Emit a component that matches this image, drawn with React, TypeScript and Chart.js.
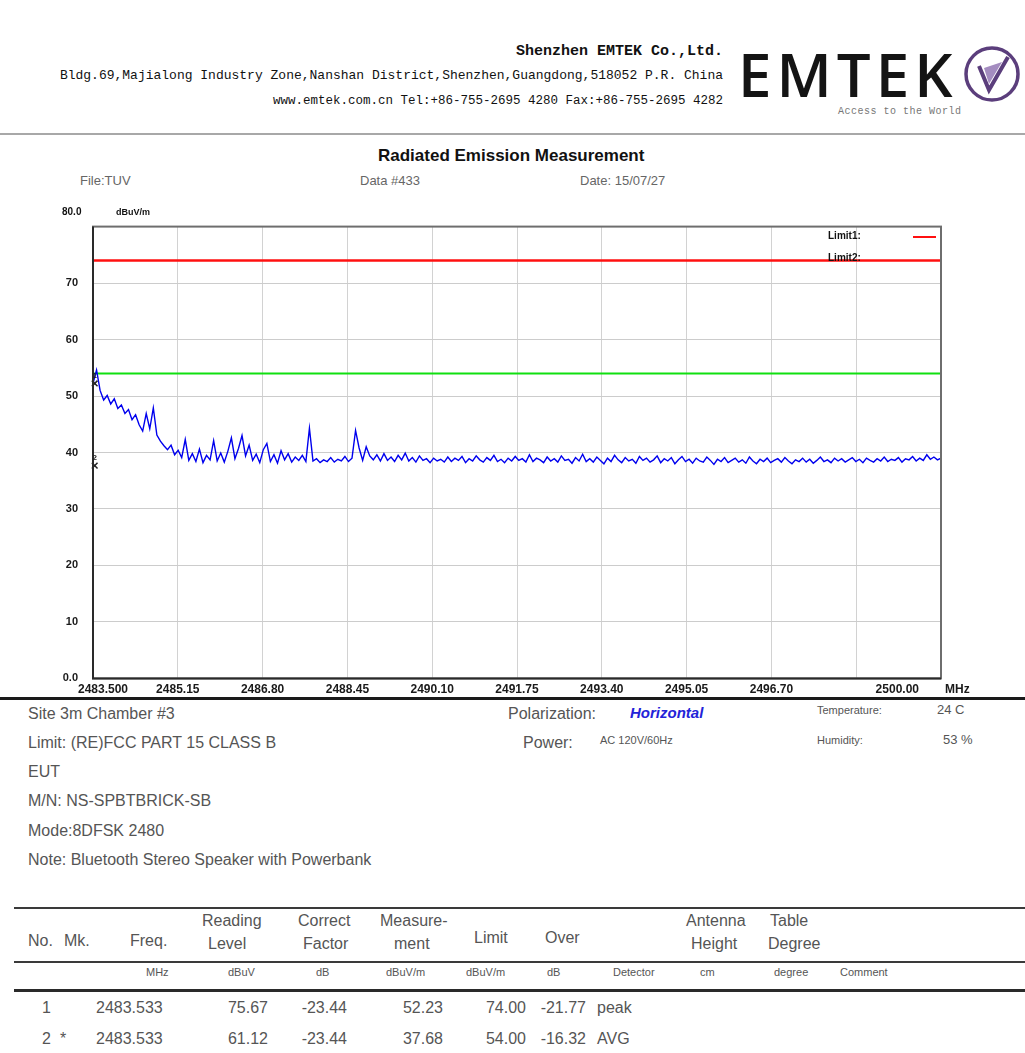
import React, { useEffect, useRef } from "react";
import { Chart, registerables } from "chart.js";

Chart.register(...registerables);

// ---------- chart data ----------
const SWEEP_START_MHZ = 2483.5;
const SWEEP_STOP_MHZ = 2500.0;

const TRACE_DBUV_M = [
  52.2, 54.6, 51.0, 49.3, 50.1, 48.6, 49.5, 47.8, 48.4, 46.9, 47.6, 45.8, 46.7, 44.9, 43.8, 46.9, 44.2, 47.9, 43.1, 42.0,
  41.2, 40.5, 41.3, 39.6, 40.4, 39.1, 42.3, 38.6, 39.8, 38.4, 40.6, 38.2, 39.5, 38.7, 42.1, 38.5, 39.9, 38.3, 40.2, 42.6,
  38.9, 40.7, 43.0, 39.4, 41.3, 38.6, 39.7, 38.2, 40.5, 41.6, 38.4, 39.6, 38.1, 40.3, 38.7, 39.8, 38.3, 39.2, 38.6, 39.5,
  38.4, 44.3, 38.5, 38.9, 38.2, 38.7, 38.4, 39.1, 38.3, 38.8, 38.5, 39.3, 38.4, 39.0, 43.9, 40.8, 38.6, 41.0, 39.4, 38.7,
  39.6, 38.5, 39.8, 38.6, 39.2, 38.4, 39.5, 38.7, 39.9, 38.5, 39.1, 38.3, 39.4, 38.6, 38.9, 38.2, 39.0, 38.5, 38.8, 38.3,
  39.2, 38.4, 39.0, 38.6, 39.3, 38.2, 38.9, 38.5, 39.4, 38.7, 38.3, 39.1, 38.6, 39.5, 38.4, 38.8, 38.2, 39.0, 38.5, 39.3,
  38.6, 38.9, 38.3, 39.6, 38.4, 39.0, 38.7, 38.2, 39.2, 38.5, 38.9, 38.3, 39.4, 38.6, 38.8, 38.1, 39.1, 38.5, 39.7, 38.4,
  38.9, 38.3, 39.2, 38.6, 38.0, 39.0, 38.4, 39.5, 38.7, 38.2, 39.1, 38.5, 38.8, 38.1, 39.3, 38.6, 39.0, 38.3, 38.7, 39.4,
  38.2, 38.9, 38.5, 39.1, 38.0, 38.7, 39.3, 38.4, 38.8, 38.1, 39.0, 38.5, 38.3, 39.2, 38.6, 37.9, 38.8, 38.4, 39.1, 38.2,
  38.6, 39.0, 38.3, 38.7, 38.1, 39.2, 38.5, 38.0, 38.8, 38.4, 39.0, 38.2, 38.6, 38.9, 38.3, 39.1, 38.5, 38.0, 38.7, 38.4,
  39.0, 38.3, 38.8, 38.1, 38.6, 39.2, 38.4, 38.7, 38.2, 39.0, 38.5, 38.9, 38.3, 38.7, 39.1, 38.4, 38.8, 38.2, 39.0, 38.6,
  38.3, 38.9, 38.5, 39.2, 38.4, 38.8, 38.6, 39.1, 38.3, 38.9, 38.7, 39.3, 38.5, 39.0, 38.6, 39.6, 38.8, 39.2, 38.7, 39.0,
];

const LIMIT1_DBUV_M = 74;
const LIMIT2_DBUV_M = 54;

const X_TICKS = [2483.5, 2485.15, 2486.8, 2488.45, 2490.1, 2491.75, 2493.4, 2495.05, 2496.7, 2498.35, 2500.0];
const X_TICK_LABELS = ["2483.500", "2485.15", "2486.80", "2488.45", "2490.10", "2491.75", "2493.40", "2495.05", "2496.70", "", "2500.00"];
const Y_MIN = 0;
const Y_MAX = 80;
const Y_STEP = 10;

// ---------- marker table data ----------
const MK_NO = ["1", "2"];
const MK_FLAG = ["", "*"];
const MK_FREQ = [2483.533, 2483.533];
const MK_READING = [75.67, 61.12];
const MK_CORRECT = [-23.44, -23.44];
const MK_MEASURE = [52.23, 37.68];
const MK_LIMIT = [74.0, 54.0];
const MK_OVER = [-21.77, -16.32];
const MK_DETECTOR = ["peak", "AVG"];

const SANS = '"Liberation Sans", Arial, Helvetica, sans-serif';
const MONO = '"Liberation Mono", "DejaVu Sans Mono", monospace';

const CANVAS_LEFT = 40;
const CANVAS_TOP = 205;
const CANVAS_W = 951;
const CANVAS_H = 495;

const xLabelPlugin = {
  id: "xLabelsAndFrame",
  afterDraw(chart: any) {
    const { ctx, chartArea, scales } = chart;
    const xs = scales.x;
    ctx.save();
    // frame
    ctx.strokeStyle = "#6e6e6e";
    ctx.lineWidth = 2;
    ctx.strokeRect(chartArea.left, chartArea.top, chartArea.right - chartArea.left, chartArea.bottom - chartArea.top);
    ctx.strokeStyle = "#2a2a2a";
    ctx.beginPath();
    ctx.moveTo(chartArea.left, chartArea.top);
    ctx.lineTo(chartArea.left, chartArea.bottom);
    ctx.lineTo(chartArea.right, chartArea.bottom);
    ctx.stroke();
    // marker numbers
    ctx.font = 'bold 8px "Liberation Sans", Arial, sans-serif';
    ctx.fillStyle = "#222";
    ctx.textAlign = "center";
    ctx.textBaseline = "bottom";
    const ys = scales.y;
    MK_NO.forEach((no, i) => {
      ctx.fillText(no, xs.getPixelForValue(MK_FREQ[i]), ys.getPixelForValue(MK_MEASURE[i]) - 4);
    });
    // x labels
    ctx.font = 'bold 12px "Liberation Sans Narrow", "Liberation Sans", Arial, sans-serif';
    ctx.fillStyle = "#1a1a1a";
    ctx.textBaseline = "middle";
    const y = chartArea.bottom + 11;
    X_TICKS.forEach((v, i) => {
      const label = X_TICK_LABELS[i];
      if (!label) return;
      const px = xs.getPixelForValue(v);
      if (i === 0) {
        ctx.textAlign = "center";
        ctx.fillText(label, px + 10, y);
      } else if (i === X_TICKS.length - 1) {
        ctx.textAlign = "right";
        ctx.fillText(label, px - 22, y);
      } else {
        ctx.textAlign = "center";
        ctx.fillText(label, px, y);
      }
    });
    ctx.textAlign = "left";
    ctx.fillText("MHz", xs.right + 4, y);
    ctx.restore();
  },
};

function T(props: { x: number; y: number; size: number; children: any; style?: any; right?: boolean }) {
  const { x, y, size, children, style, right } = props;
  const lh = Math.round(size * 1.2);
  const base: any = {
    position: "absolute",
    top: y - lh / 2,
    lineHeight: `${lh}px`,
    fontSize: size,
    fontFamily: SANS,
    whiteSpace: "nowrap",
    color: "#555",
  };
  if (right) base.right = 1025 - x;
  else base.left = x;
  return <div style={{ ...base, ...style }}>{children}</div>;
}

function HLine(props: { y: number; x1?: number; x2?: number; w?: number; color?: string }) {
  const { y, x1 = 0, x2 = 1025, w = 2, color = "#333" } = props;
  return <div style={{ position: "absolute", left: x1, top: y - w / 2, width: x2 - x1, height: w, background: color }} />;
}

function EmissionChart() {
  const ref = useRef<HTMLCanvasElement | null>(null);
  useEffect(() => {
    if (!ref.current) return;
    const n = TRACE_DBUV_M.length;
    const step = (SWEEP_STOP_MHZ - SWEEP_START_MHZ) / (n - 1);
    const trace = TRACE_DBUV_M.map((v, i) => ({ x: SWEEP_START_MHZ + i * step, y: v }));
    const lim1 = [
      { x: SWEEP_START_MHZ, y: LIMIT1_DBUV_M },
      { x: SWEEP_STOP_MHZ, y: LIMIT1_DBUV_M },
    ];
    const lim2 = [
      { x: SWEEP_START_MHZ, y: LIMIT2_DBUV_M },
      { x: SWEEP_STOP_MHZ, y: LIMIT2_DBUV_M },
    ];
    const markers = MK_FREQ.map((f, i) => ({ x: f, y: MK_MEASURE[i] }));

    const chart = new Chart(ref.current, {
      type: "line",
      data: {
        datasets: [
          { label: "Limit1", data: lim1, borderColor: "#ff1010", borderWidth: 2.5, pointRadius: 0, order: 3 },
          { label: "Limit2", data: lim2, borderColor: "#10e010", borderWidth: 2, pointRadius: 0, order: 3 },
          { label: "Trace", data: trace, borderColor: "#0000ee", borderWidth: 1.4, pointRadius: 0, tension: 0, order: 2 },
          {
            label: "Markers",
            data: markers,
            showLine: false,
            clip: false,
            pointStyle: "crossRot",
            pointRadius: 4,
            borderColor: "#222",
            borderWidth: 1.5,
            order: 1,
          },
        ],
      },
      options: {
        animation: false,
        responsive: false,
        devicePixelRatio: 1,
        layout: { padding: { top: 1, right: 50, bottom: 0, left: 0 } },
        plugins: { legend: { display: false }, tooltip: { enabled: false }, title: { display: false } },
        scales: {
          x: {
            type: "linear",
            min: SWEEP_START_MHZ,
            max: SWEEP_STOP_MHZ,
            afterBuildTicks: (scale: any) => {
              scale.ticks = X_TICKS.map((v) => ({ value: v }));
            },
            afterFit: (scale: any) => {
              scale.height = 18;
            },
            ticks: { display: false },
            grid: { color: "#d2d2d2", lineWidth: 1, drawTicks: false },
            border: { display: false },
          },
          y: {
            min: Y_MIN,
            max: Y_MAX,
            afterFit: (scale: any) => {
              scale.width = 53;
            },
            ticks: {
              stepSize: Y_STEP,
              padding: 15,
              color: "#1a1a1a",
              font: { family: '"Liberation Sans", Arial, sans-serif', size: 11, weight: "bold" },
              callback: (v: any) => (v === Y_MAX ? "" : v === 0 ? "0.0" : String(v)),
            },
            grid: { color: "#cccccc", lineWidth: 1, drawTicks: false },
            border: { display: false },
          },
        },
      },
      plugins: [xLabelPlugin],
    } as any);
    return () => chart.destroy();
  }, []);
  return (
    <canvas
      ref={ref}
      width={CANVAS_W}
      height={CANVAS_H}
      style={{ position: "absolute", left: CANVAS_LEFT, top: CANVAS_TOP, width: CANVAS_W, height: CANVAS_H }}
    />
  );
}

export default function App() {
  const fmt = (v: number) => v.toFixed(2);
  const rowY = [1007, 1038];
  return (
    <div style={{ position: "fixed", left: 0, top: 0, width: 1025, height: 1053, background: "#fff", overflow: "hidden" }}>
      {/* header */}
      <T x={723} y={52} size={15} right style={{ fontFamily: MONO, fontWeight: "bold", color: "#111" }}>
        Shenzhen EMTEK Co.,Ltd.
      </T>
      <T x={723} y={76} size={13} right style={{ fontFamily: MONO, color: "#111" }}>
        Bldg.69,Majialong Industry Zone,Nanshan District,Shenzhen,Guangdong,518052 P.R. China
      </T>
      <T x={723} y={101} size={12.5} right style={{ fontFamily: MONO, color: "#111" }}>
        www.emtek.com.cn Tel:+86-755-2695 4280 Fax:+86-755-2695 4282
      </T>
      <T x={738} y={74} size={60} style={{ fontFamily: '"Open Sans", Lato, sans-serif', fontWeight: 600, color: "#141414", letterSpacing: 5 }}>
        EMTEK
      </T>
      <svg style={{ position: "absolute", left: 962, top: 44 }} width={60} height={60} viewBox="0 0 60 60">
        <circle cx={30} cy={30} r={26} fill="none" stroke="#5b3e7c" strokeWidth={3.5} />
        <path d="M17 22 L27 46 L46 13" fill="none" stroke="#5b3e7c" strokeWidth={4} />
        <path d="M22 24 L27 40 L40 18 Z" fill="#a48cc0" />
      </svg>
      <T x={838} y={112} size={10} style={{ fontFamily: MONO, color: "#777", letterSpacing: 0.5 }}>
        Access to the World
      </T>
      <HLine y={134} w={2} color="#a8a8a8" />

      {/* title area */}
      <T x={378} y={156} size={17} style={{ fontWeight: "bold", color: "#111" }}>
        Radiated Emission Measurement
      </T>
      <T x={80} y={181} size={13} style={{ color: "#666" }}>File:TUV</T>
      <T x={360} y={181} size={13} style={{ color: "#666" }}>Data #433</T>
      <T x={580} y={181} size={13} style={{ color: "#666" }}>Date: 15/07/27</T>

      <EmissionChart />

      <T x={62} y={212} size={10} style={{ fontWeight: "bold", color: "#111" }}>80.0</T>
      <T x={116} y={212} size={9} style={{ fontWeight: "bold", color: "#111" }}>dBuV/m</T>

      {/* in-plot legend */}
      <T x={828} y={236} size={10} style={{ fontWeight: "bold", color: "#111" }}>Limit1:</T>
      <div style={{ position: "absolute", left: 913, top: 236, width: 23, height: 2, background: "#ff1010" }} />
      <T x={828} y={258} size={10} style={{ fontWeight: "bold", color: "#111" }}>Limit2:</T>

      <HLine y={698} w={3} color="#1a1a1a" />

      {/* info block */}
      <T x={28} y={713} size={16}>Site  3m Chamber #3</T>
      <T x={508} y={713} size={16}>Polarization:</T>
      <T x={630} y={713} size={15} style={{ color: "#2323d8", fontWeight: "bold", fontStyle: "italic" }}>Horizontal</T>
      <T x={817} y={710} size={11}>Temperature:</T>
      <T x={937} y={710} size={13}>24 C</T>
      <T x={28} y={742} size={16}>Limit: (RE)FCC PART 15 CLASS B</T>
      <T x={523} y={742} size={16}>Power:</T>
      <T x={600} y={740} size={11}>AC 120V/60Hz</T>
      <T x={817} y={740} size={11}>Humidity:</T>
      <T x={943} y={740} size={13}>53 %</T>
      <T x={28} y={771} size={16}>EUT</T>
      <T x={28} y={800} size={16}>M/N:  NS-SPBTBRICK-SB</T>
      <T x={28} y={830} size={16}>Mode:8DFSK 2480</T>
      <T x={28} y={859} size={16}>Note: Bluetooth Stereo Speaker with Powerbank</T>

      {/* table */}
      <HLine y={908} x1={14} w={2} color="#3a3a3a" />
      <T x={28} y={940} size={16}>No.</T>
      <T x={64} y={940} size={16}>Mk.</T>
      <T x={130} y={940} size={16}>Freq.</T>
      <T x={202} y={920} size={16}>Reading</T>
      <T x={208} y={943} size={16}>Level</T>
      <T x={298} y={920} size={16}>Correct</T>
      <T x={303} y={943} size={16}>Factor</T>
      <T x={380} y={920} size={16}>Measure-</T>
      <T x={394} y={943} size={16}>ment</T>
      <T x={474} y={937} size={16}>Limit</T>
      <T x={545} y={937} size={16}>Over</T>
      <T x={686} y={920} size={16}>Antenna</T>
      <T x={691} y={943} size={16}>Height</T>
      <T x={770} y={920} size={16}>Table</T>
      <T x={768} y={943} size={16}>Degree</T>
      <HLine y={962} x1={14} w={2} color="#3a3a3a" />
      <T x={146} y={972} size={11}>MHz</T>
      <T x={228} y={972} size={11}>dBuV</T>
      <T x={316} y={972} size={11}>dB</T>
      <T x={386} y={972} size={11}>dBuV/m</T>
      <T x={466} y={972} size={11}>dBuV/m</T>
      <T x={547} y={972} size={11}>dB</T>
      <T x={613} y={972} size={11}>Detector</T>
      <T x={700} y={972} size={11}>cm</T>
      <T x={774} y={972} size={11}>degree</T>
      <T x={840} y={972} size={11}>Comment</T>
      <HLine y={990} x1={14} w={3} color="#2a2a2a" />
      {MK_NO.map((no, i) => (
        <React.Fragment key={no}>
          <T x={42} y={rowY[i]} size={16}>{no}</T>
          <T x={60} y={rowY[i]} size={16}>{MK_FLAG[i]}</T>
          <T x={96} y={rowY[i]} size={16}>{MK_FREQ[i].toFixed(3)}</T>
          <T x={268} y={rowY[i]} size={16} right>{fmt(MK_READING[i])}</T>
          <T x={347} y={rowY[i]} size={16} right>{fmt(MK_CORRECT[i])}</T>
          <T x={443} y={rowY[i]} size={16} right>{fmt(MK_MEASURE[i])}</T>
          <T x={526} y={rowY[i]} size={16} right>{fmt(MK_LIMIT[i])}</T>
          <T x={586} y={rowY[i]} size={16} right>{fmt(MK_OVER[i])}</T>
          <T x={597} y={rowY[i]} size={16}>{MK_DETECTOR[i]}</T>
        </React.Fragment>
      ))}
    </div>
  );
}
